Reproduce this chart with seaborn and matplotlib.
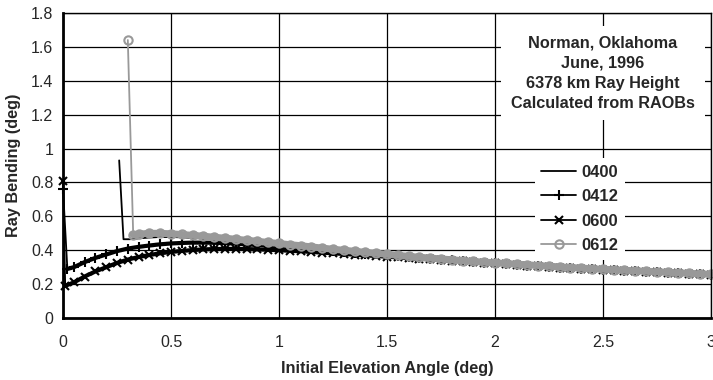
#Basic data and plotting libraries
import numpy as np
import pandas as pd
import matplotlib
matplotlib.use("Agg")
import matplotlib.pyplot as plt
from matplotlib.ticker import MultipleLocator, FuncFormatter
import seaborn as sns

#Shared elevation angles (deg) for the smooth part of every curve
tail_x = [0.35, 0.40, 0.45, 0.50, 0.55, 0.60, 0.65, 0.70, 0.75, 0.80,
          0.85, 0.90, 0.95, 1.00, 1.05, 1.10, 1.15, 1.20, 1.25, 1.30,
          1.35, 1.40, 1.45, 1.50, 1.55, 1.60, 1.65, 1.70, 1.75, 1.80,
          1.85, 1.90, 1.95, 2.00, 2.05, 2.10, 2.15, 2.20, 2.25, 2.30,
          2.35, 2.40, 2.45, 2.50, 2.55, 2.60, 2.65, 2.70, 2.75, 2.80,
          2.85, 2.90, 2.95, 3.00]

#Ray bending (deg) per sounding
s0400_x = [0.26, 0.28, 0.31] + tail_x
s0400_y = [0.93, 0.465, 0.465,
           0.47, 0.475, 0.478, 0.478, 0.476, 0.473, 0.469, 0.465, 0.46, 0.455,
           0.449, 0.443, 0.437, 0.431, 0.425, 0.419, 0.413, 0.406, 0.40, 0.394,
           0.388, 0.382, 0.376, 0.37, 0.365, 0.36, 0.355, 0.35, 0.345, 0.34,
           0.336, 0.332, 0.328, 0.324, 0.32, 0.316, 0.312, 0.308, 0.304, 0.30,
           0.296, 0.293, 0.289, 0.286, 0.283, 0.28, 0.277, 0.274, 0.271, 0.268,
           0.265, 0.262, 0.259, 0.256]

s0412_x = [0.00, 0.02, 0.05, 0.10, 0.15, 0.20, 0.25, 0.30] + tail_x
s0412_y = [0.76, 0.29, 0.30, 0.33, 0.355, 0.375, 0.395, 0.41,
           0.42, 0.428, 0.435, 0.44, 0.443, 0.445, 0.445, 0.444, 0.442, 0.439,
           0.435, 0.431, 0.427, 0.422, 0.417, 0.412, 0.407, 0.401, 0.396, 0.39,
           0.385, 0.38, 0.375, 0.37, 0.365, 0.36, 0.355, 0.35, 0.345, 0.34,
           0.335, 0.33, 0.326, 0.322, 0.318, 0.314, 0.31, 0.306, 0.302, 0.298,
           0.294, 0.291, 0.287, 0.284, 0.281, 0.278, 0.275, 0.272, 0.269, 0.266,
           0.263, 0.26, 0.257, 0.254]

s0600_x = [0.00, 0.01, 0.05, 0.10, 0.15, 0.20, 0.25, 0.30] + tail_x
s0600_y = [0.81, 0.19, 0.21, 0.245, 0.275, 0.30, 0.325, 0.345,
           0.36, 0.372, 0.382, 0.39, 0.396, 0.401, 0.405, 0.407, 0.408, 0.408,
           0.407, 0.405, 0.403, 0.40, 0.397, 0.394, 0.39, 0.386, 0.382, 0.378,
           0.374, 0.37, 0.366, 0.362, 0.358, 0.354, 0.35, 0.346, 0.342, 0.338,
           0.334, 0.33, 0.326, 0.322, 0.318, 0.314, 0.31, 0.306, 0.302, 0.298,
           0.294, 0.291, 0.287, 0.284, 0.281, 0.278, 0.275, 0.272, 0.269, 0.266,
           0.263, 0.26, 0.257, 0.254]

s0612_x = [0.30, 0.325] + tail_x
s0612_y = [1.64, 0.49,
           0.495, 0.50, 0.50, 0.497, 0.493, 0.488, 0.483, 0.477, 0.471, 0.465,
           0.459, 0.453, 0.446, 0.44, 0.433, 0.427, 0.42, 0.413, 0.406, 0.40,
           0.394, 0.388, 0.382, 0.376, 0.37, 0.364, 0.359, 0.354, 0.349, 0.344,
           0.339, 0.334, 0.33, 0.326, 0.322, 0.318, 0.314, 0.31, 0.306, 0.302,
           0.298, 0.295, 0.291, 0.288, 0.285, 0.282, 0.279, 0.276, 0.273, 0.27,
           0.267, 0.264, 0.261, 0.258]

note = "Norman, Oklahoma\nJune, 1996\n6378 km Ray Height\nCalculated from RAOBs"

sns.set_style("white")
plt.rcParams['font.family'] = ['Liberation Sans', 'DejaVu Sans']

fig, ax = plt.subplots(figsize=(7.13, 3.80), dpi=100)
fig.subplots_adjust(left=0.0884, right=0.997, bottom=0.163, top=0.966)

gray = '#999999'

#thick underlays (skip the first drop) so the dense markers read as a band
sns.lineplot(x=s0412_x[1:], y=s0412_y[1:], ax=ax, color='black', lw=3, clip_on=False)
sns.lineplot(x=s0600_x[1:], y=s0600_y[1:], ax=ax, color='black', lw=3, clip_on=False)

sns.lineplot(x=s0400_x, y=s0400_y, ax=ax, color='black', lw=1.3, label='0400', clip_on=False)
sns.lineplot(x=s0412_x, y=s0412_y, ax=ax, color='black', lw=1.3, marker='+',
             markersize=6.5, markeredgewidth=1.5, markeredgecolor='black',
             label='0412', clip_on=False)
sns.lineplot(x=s0600_x, y=s0600_y, ax=ax, color='black', lw=1.3, marker='x',
             markersize=5.5, markeredgewidth=1.5, markeredgecolor='black',
             label='0600', clip_on=False)
sns.lineplot(x=s0612_x[1:], y=s0612_y[1:], ax=ax, color=gray, lw=5, clip_on=False)
sns.lineplot(x=s0612_x, y=s0612_y, ax=ax, color=gray, lw=1.3, marker='o',
             markersize=6, markeredgewidth=1.5, markerfacecolor='none',
             markeredgecolor=gray, label='0612', clip_on=False)

ax.set_xlim(0, 3)
ax.set_ylim(0, 1.8)
ax.xaxis.set_major_locator(MultipleLocator(0.5))
ax.xaxis.set_minor_locator(MultipleLocator(0.1))
ax.yaxis.set_major_locator(MultipleLocator(0.2))
ax.yaxis.set_minor_locator(MultipleLocator(0.04))
fmt = FuncFormatter(lambda v, p: '%g' % round(v, 2))
ax.xaxis.set_major_formatter(fmt)
ax.yaxis.set_major_formatter(fmt)

ax.grid(True, which='major', color='black', lw=0.9)
ax.tick_params(axis='both', which='both', direction='in', color='black', width=1)
ax.tick_params(axis='both', which='major', length=4, labelsize=11.5)
ax.tick_params(axis='both', which='minor', length=3)
ax.tick_params(axis='x', which='major', pad=12)
ax.tick_params(axis='y', which='major', pad=7)

for side in ['left', 'bottom']:
    ax.spines[side].set_linewidth(2)
    ax.spines[side].set_color('black')
for side in ['top', 'right']:
    ax.spines[side].set_linewidth(1)
    ax.spines[side].set_color('black')

ax.set_xlabel('Initial Elevation Angle (deg)', fontsize=11.7, fontweight='bold', labelpad=8)
ax.set_ylabel('Ray Bending (deg)', fontsize=11.7, fontweight='bold', labelpad=7)

ax.text(2.5, 1.445, note, ha='center', va='center', fontsize=11.7, fontweight='bold',
        linespacing=1.42, zorder=4,
        bbox=dict(facecolor='white', edgecolor='none', boxstyle='square,pad=0.6'))

leg = ax.legend(loc='upper left', bbox_to_anchor=(0.728, 0.524), borderaxespad=0,
                frameon=True, framealpha=1, edgecolor='none', fancybox=False,
                prop={'weight': 'bold', 'size': 12}, handlelength=2.1,
                handletextpad=0.3, labelspacing=0.57, borderpad=0.4)
for h in leg.get_lines():
    h.set_linewidth(1.3)

fig.savefig('out.png', dpi=100)
